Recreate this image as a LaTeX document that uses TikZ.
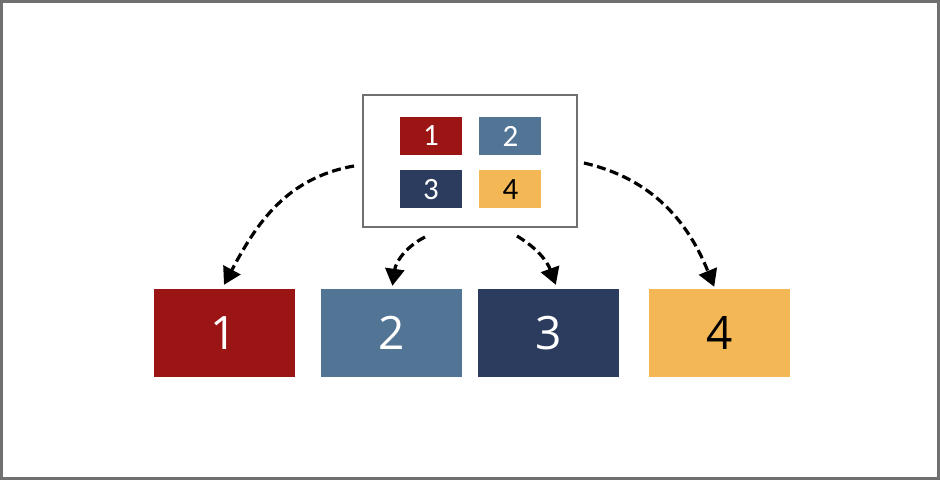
\documentclass[tikz,border=0pt]{standalone}
\usepackage{fontspec}
\setsansfont{Open Sans}
\newfontfamily\tilefont{Carlito}
\usetikzlibrary{positioning,arrows.meta}
\definecolor{tilered}{RGB}{155,21,21}
\definecolor{tileblue}{RGB}{82,117,150}
\definecolor{tilenavy}{RGB}{43,60,94}
\definecolor{tileyellow}{RGB}{243,183,85}
\definecolor{framegray}{RGB}{112,112,112}
\tikzstyle{bigtile}=[rectangle,minimum width=141pt,minimum height=88pt,inner sep=0pt,
font=\sffamily\fontsize{46}{46}\selectfont]
\tikzstyle{smalltile}=[rectangle,minimum width=62pt,minimum height=38pt,inner sep=0pt,
font=\tilefont\fontsize{31}{31}\selectfont]
\tikzstyle{pack}=[rectangle,draw=framegray,line width=2pt,fill=white,
minimum width=214pt,minimum height=132pt,inner sep=0pt]
\tikzstyle{flow}=[-{Triangle[length=17pt,width=19pt]},line width=3.2pt,
dash pattern=on 9pt off 4.5pt]

\begin{document}
\begin{tikzpicture}[x=1pt,y=1pt]
            % frame
            \draw[framegray,line width=3pt] (1.5,1.5) rectangle (938.5,478.5);

            % packed tiles
            \node[pack] (box) at (470,319) {};
            \node[smalltile,fill=tilered,text=white] (t1) at (431,344) {1};
            \node[smalltile,fill=tileblue,text=white,right=17pt of t1] (t2) {2};
            \node[smalltile,fill=tilenavy,text=white,below=15pt of t1] (t3) {3};
            \node[smalltile,fill=tileyellow,text=black,right=17pt of t3] (t4) {4};

            % unpacked tiles
            \node[bigtile,fill=tilered,text=white] (b1) at (224,147) {1};
            \node[bigtile,fill=tileblue,text=white,right=26pt of b1] (b2) {2};
            \node[bigtile,fill=tilenavy,text=white,right=16pt of b2] (b3) {3};
            \node[bigtile,fill=tileyellow,text=black,right=29pt of b3] (b4) {4};

            % arrows
            \coordinate (s1) at ([xshift=-8pt,yshift=-5pt]box.west);
            \coordinate (s2) at ([xshift=-45pt,yshift=-9pt]box.south);
            \coordinate (s3) at ([xshift=47pt,yshift=-8pt]box.south);
            \coordinate (s4) at ([xshift=6pt,yshift=-2pt]box.east);

            \draw[flow] (s1) to[out=190,in=62] ([yshift=4pt]b1.north);
            \draw[flow] (s2) to[out=207,in=82] ([xshift=1pt,yshift=3pt]b2.north);
            \draw[flow] (s3) to[out=-31,in=110] ([xshift=7pt,yshift=4pt]b3.north);
            \draw[flow] (s4) to[out=-13,in=112] ([xshift=-5pt,yshift=2pt]b4.north);
\end{tikzpicture}
\end{document}
